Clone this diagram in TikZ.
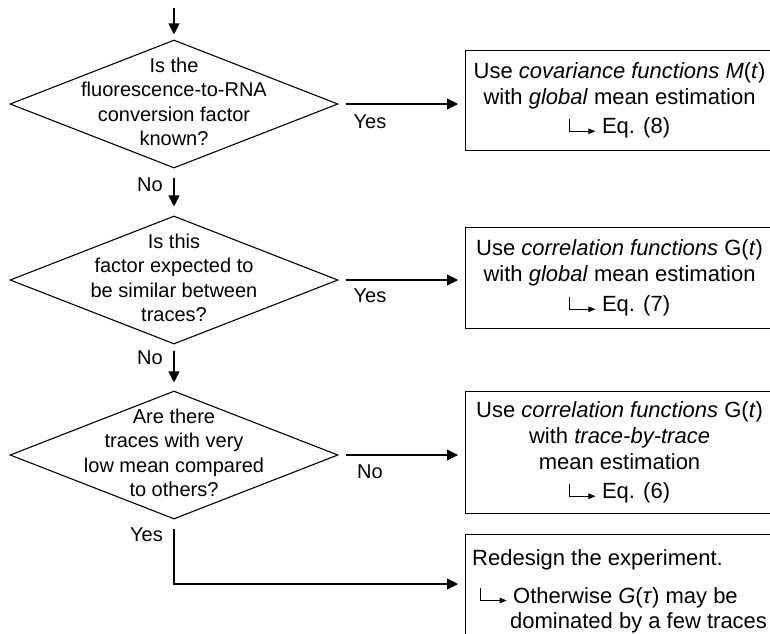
\documentclass[tikz,border=0pt]{standalone}
\usepackage{fontspec}
\setmainfont{Liberation Sans}
\usetikzlibrary{arrows.meta,shapes.geometric}
\newcommand\hookarr{\tikz[baseline=0pt,x=1pt,y=1pt]\draw[line width=0.9pt,-{Triangle[length=7pt,width=5.5pt]}] (0,15)|-(26,2.5);}
\begin{document}
\begin{tikzpicture}[x=1pt,y=-1pt,
 line/.style={line width=1.1pt},
 arr/.style={line, -{Triangle[length=11pt,width=11pt]}},
 dia/.style={diamond, draw, line width=1.1pt, minimum width=328pt, minimum height=128pt, inner sep=0pt},
 qtext/.style={align=center, font=\fontsize{20}{24.5}\selectfont, inner sep=0pt},
 lbl/.style={font=\fontsize{20}{24}\selectfont, inner sep=0pt},
 box/.style={rectangle, draw, line width=1.1pt, anchor=north west, minimum width=308pt, align=center, font=\fontsize{22}{26}\selectfont, inner sep=0pt},
 btext/.style={font=\fontsize{22}{26}\selectfont, inner sep=0pt, anchor=base west}]
\useasboundingbox (0,0) rectangle (770,633);
\clip (0,0) rectangle (770,633);

% decisions
\node[dia] (d1) at (174,104) {};
\node[qtext] (q1) at (174,102) {Is the\\fluorescence-to-RNA\\conversion factor\\known?};
\node[dia] (d2) at (174,280) {};
\node[qtext] (q2) at (174,278) {Is this\\factor expected to\\be similar between\\traces?};
\node[dia] (d3) at (174,455) {};
\node[qtext] (q3) at (174,453) {Are there\\traces with very\\low mean compared\\to others?};

% boxes
\node[box, minimum height=100pt] (b1) at (465,50) {Use \textit{covariance functions M}(\textit{t})\\with \textit{global} mean estimation\\[3pt]\hookarr\ Eq. (8)};
\node[box, minimum height=101pt] (b2) at (465,227) {Use \textit{correlation functions} G(\textit{t})\\with \textit{global} mean estimation\\[4pt]\hookarr\ Eq. (7)};
\node[box, minimum height=122pt] (b3) at (465,391) {Use \textit{correlation functions} G(\textit{t})\\with \textit{trace-by-trace}\\mean estimation\\[3pt]\hookarr\ Eq. (6)};
\node[box, minimum height=140pt] (b4) at (465,534) {};
\node[btext] (t4a) at (472,565) {Redesign the experiment.};
\node[btext] (t4b) at (480,603) {\hookarr\ Otherwise \textit{G}(\textit{τ}) may be};
\node[btext] (t4c) at (510,628) {dominated by a few traces};

% connectors
\coordinate (s) at (174,8);
\draw[arr, shorten >=5pt] (s) -- (d1.north);
\draw[arr, shorten <=9pt, shorten >=9pt] (d1.south) -- (d2.north);
\draw[arr, shorten <=6pt, shorten >=8pt] (d2.south) -- (d3.north);
\draw[arr, shorten <=7pt, shorten >=7pt] (d1.east) -- (d1.east -| b1.west);
\draw[arr, shorten <=7pt, shorten >=7pt] (d2.east) -- (d2.east -| b2.west);
\draw[arr, shorten <=7pt, shorten >=7pt] (d3.east) -- (d3.east -| b3.west);
\coordinate (e4) at (465,584);
\draw[arr, shorten <=9pt, shorten >=7pt] (d3.south) |- (e4);

% labels
\node[lbl] (y1) at (370,122) {Yes};
\node[lbl] (y2) at (370,296) {Yes};
\node[lbl] (n3) at (370,472) {No};
\node[lbl, anchor=east] (n1) at (163,185) {No};
\node[lbl, anchor=east] (n2) at (163,358) {No};
\node[lbl, anchor=east] (y3) at (163,535) {Yes};
\end{tikzpicture}
\end{document}
